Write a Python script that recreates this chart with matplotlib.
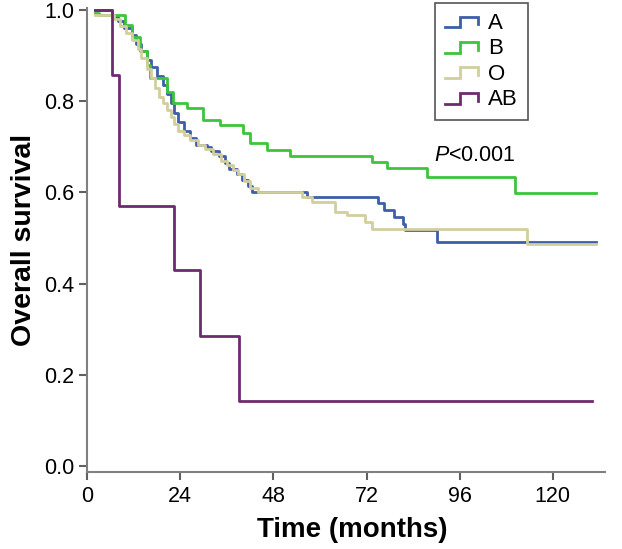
import numpy as np
import matplotlib
matplotlib.use("Agg")
import matplotlib.pyplot as plt
from matplotlib.lines import Line2D
from matplotlib.legend_handler import HandlerBase

plt.rcParams['font.family'] = ['Liberation Sans', 'DejaVu Sans']
plt.rcParams['mathtext.fontset'] = 'custom'
plt.rcParams['mathtext.it'] = 'Liberation Sans:italic'
plt.rcParams['mathtext.rm'] = 'Liberation Sans'

# Kaplan-Meier steps (months, survival); last entry = end of follow-up
time_a = [2, 6.5, 8, 9.5, 11.5, 12.5, 14, 15.5, 16.5, 18, 19.5, 20.5, 21.5, 22.5, 23.5, 25,
          26.5, 28, 31, 32, 34, 35.5, 36.5, 38.5, 40, 41.5, 42.5, 56.7, 75, 76.5, 79,
          81.4, 81.8, 90.2, 131]
surv_a = [1.0, 0.985, 0.975, 0.96, 0.945, 0.925, 0.91, 0.89, 0.875, 0.855, 0.835, 0.815,
          0.795, 0.775, 0.755, 0.735, 0.72, 0.705, 0.70, 0.69, 0.68, 0.665, 0.652, 0.64,
          0.627, 0.614, 0.601, 0.589, 0.577, 0.562, 0.547, 0.53, 0.518, 0.492, 0.492]

time_b = [2, 3, 9.8, 11.6, 13.7, 15.5, 16.2, 20.6, 22.2, 25.8, 29.9, 34.3, 40.2, 42, 46.4,
          52.3, 73.5, 77.3, 87.6, 110.3, 131]
surv_b = [0.993, 0.988, 0.967, 0.94, 0.91, 0.88, 0.85, 0.82, 0.796, 0.785, 0.759, 0.748,
          0.73, 0.708, 0.693, 0.68, 0.667, 0.654, 0.634, 0.599, 0.599]

time_o = [2, 7, 8.5, 10, 11.5, 13, 14, 15.5, 16.5, 17.5, 18.5, 19.5, 20.5, 21.5, 22.5,
          23.5, 25, 26.5, 28.5, 30.5, 32.5, 34.5, 36, 37.5, 39, 40.5, 42, 44, 55.5, 58,
          64, 67, 71.5, 73.5, 113.4, 131]
surv_o = [0.99, 0.98, 0.965, 0.95, 0.935, 0.915, 0.895, 0.87, 0.85, 0.83, 0.81, 0.795,
          0.78, 0.765, 0.75, 0.735, 0.725, 0.715, 0.705, 0.695, 0.685, 0.67, 0.66, 0.65,
          0.64, 0.625, 0.61, 0.60, 0.59, 0.579, 0.557, 0.55, 0.535, 0.52, 0.486, 0.486]

time_ab = [2, 6.5, 8.3, 22.5, 29, 39.2, 130]
surv_ab = [1.0, 0.857, 0.571, 0.429, 0.286, 0.143, 0.143]

groups = ['A', 'B', 'O', 'AB']
colors = ['#3d5fa8', '#3cc43a', '#d3ce9e', '#6e2a6e']
x_ticks = [0, 24, 48, 72, 96, 120]
y_ticks = [0.0, 0.2, 0.4, 0.6, 0.8, 1.0]


# draws the little step icon used in the legend
class StepHandler(HandlerBase):
    def create_artists(self, legend, orig_handle, xdescent, ydescent, width, height, fontsize, trans):
        xs = np.array([0.0, 0.45, 0.45, 1.0, 1.0]) * width - xdescent
        ys = np.array([0.1, 0.1, 0.8, 0.8, 0.3]) * height - ydescent
        line = Line2D(xs, ys, color=orig_handle.get_color(), lw=orig_handle.get_linewidth(),
                      solid_joinstyle='miter', transform=trans)
        return [line]


def plot_survival():
    fig = plt.figure(figsize=(6.22, 5.49), dpi=100)
    ax = fig.add_axes([0.14, 0.140, 0.833, 0.846])

    data = [(time_a, surv_a), (time_b, surv_b), (time_o, surv_o), (time_ab, surv_ab)]
    handles = []
    for (t, s), name, c in zip(data, groups, colors):
        ln, = ax.step(t, s, where='post', color=c, lw=2.0, label=name)
        handles.append(ln)

    ax.set_xlim(0, 133.5)
    ax.set_ylim(-0.013, 1.005)
    ax.set_xticks(x_ticks)
    ax.set_yticks(y_ticks)
    ax.set_yticklabels([f'{v:.1f}' for v in y_ticks])

    for side in ['top', 'right']:
        ax.spines[side].set_visible(False)
    for side in ['left', 'bottom']:
        ax.spines[side].set_color('#808080')
        ax.spines[side].set_linewidth(1.5)
    ax.tick_params(axis='both', colors='#606060', width=1.5, length=6, labelsize=15.5,
                   labelcolor='black')
    ax.tick_params(axis='x', pad=4)
    ax.tick_params(axis='y', pad=3)

    ax.set_xlabel('Time (months)', fontsize=20, fontweight='bold', labelpad=7)
    ax.xaxis.label.set_x(0.512)
    ax.set_ylabel('Overall survival', fontsize=20.5, fontweight='bold', labelpad=5)

    ax.text(89.4, 0.68, '$P$<0.001', fontsize=15.5, ha='left', va='center')

    leg = ax.legend(handles=handles, handler_map={Line2D: StepHandler()},
                    loc='upper left', bbox_to_anchor=(435 / 622, 1 - 3 / 549),
                    bbox_transform=fig.transFigure, borderaxespad=0, fontsize=16,
                    handlelength=1.5, handletextpad=0.45, labelspacing=0.2,
                    fancybox=False, framealpha=1, borderpad=0.45)
    leg.get_frame().set_edgecolor('#555555')
    leg.get_frame().set_linewidth(1.2)

    fig.savefig('out.png', dpi=100)


if __name__ == "__main__":
    plot_survival()
